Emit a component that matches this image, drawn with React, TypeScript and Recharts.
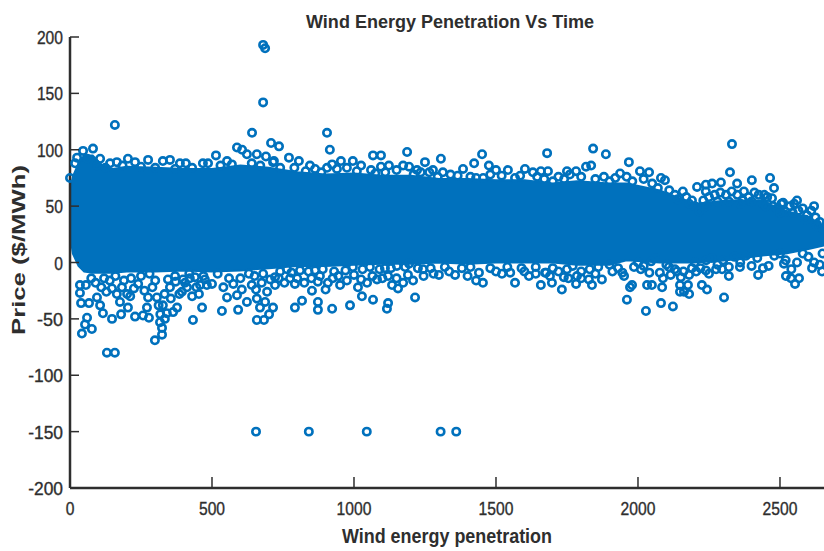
import React from "react";
import {
  ComposedChart,
  Area,
  Scatter,
  XAxis,
  YAxis,
} from "recharts";

const INK = "#2e2e2e";
const BLUE = "#0071BD";
const FONT = "'Liberation Sans', Arial, sans-serif";

const xTicks = [0, 500, 1000, 1500, 2000, 2500];
const yTicks = [-200, -150, -100, -50, 0, 50, 100, 150, 200];

// solid core of the cloud: [x, low, high]
const coreBand = [
  [0, 25, 62], [10, 8, 76], [30, -3, 88], [50, -8, 95], [80, -9, 95], [110, -9, 87],
  [150, -9, 83], [200, -8, 85], [300, -8, 84], [400, -7, 83], [500, -8, 83],
  [600, -7, 86], [700, -5, 84], [800, -3, 80], [900, -3, 78], [1000, -2, 79],
  [1100, -1, 77], [1200, -1, 77], [1300, 0, 74], [1400, -1, 74], [1500, 0, 73],
  [1600, 0, 73], [1700, 0, 70], [1785, -2, 72], [1900, -2, 70], [1960, 2, 70],
  [2077, 0, 64], [2197, 0, 52], [2313, 2, 55], [2430, 6, 55], [2520, 8, 46],
  [2600, 12, 40], [2655, 15, 32],
];

const topRim = [
  [0, 75], [18, 88], [25, 93], [46, 99], [81, 101], [106, 92], [141, 88], [165, 89],
  [204, 92], [229, 89], [275, 91], [327, 90], [352, 91], [387, 88], [408, 88], [468, 88],
  [486, 88], [514, 95], [553, 90], [588, 102], [606, 100], [623, 96], [658, 96], [690, 94],
  [715, 89], [718, 90], [771, 93], [806, 90], [845, 86], [863, 83], [905, 84], [923, 87],
  [954, 90], [996, 90], [1025, 86], [1060, 82], [1095, 85], [1123, 86], [1173, 86], [1194, 85],
  [1222, 82], [1250, 89], [1278, 82], [1313, 80], [1384, 83], [1430, 75], [1500, 82], [1542, 82],
  [1567, 75], [1602, 83], [1630, 80], [1658, 81], [1683, 81], [1700, 72], [1720, 76], [1740, 74],
  [1750, 81], [1760, 78], [1782, 81], [1800, 76], [1817, 85], [1835, 86], [1850, 74], [1880, 76],
  [1900, 72], [1920, 75], [1937, 79], [1960, 76], [1980, 72], [2007, 81], [2020, 74], [2039, 80],
  [2050, 70], [2070, 66], [2081, 75], [2095, 73], [2110, 64], [2130, 60], [2158, 63], [2170, 58],
  [2190, 55], [2200, 50], [2215, 45], [2230, 55], [2250, 58], [2270, 60], [2290, 62], [2310, 60],
  [2330, 63], [2350, 60], [2370, 55], [2390, 58], [2410, 62], [2425, 60], [2440, 52], [2455, 58],
  [2475, 50], [2490, 48], [2505, 52], [2520, 45], [2535, 50], [2550, 52], [2565, 46], [2580, 48],
  [2595, 42], [2610, 46], [2625, 40], [2640, 36], [2650, 30],
];

// second row just under the rim, closes the gaps between the outer rings
const innerRim = [
  [60, 92], [95, 86], [125, 84], [185, 86], [250, 85], [300, 84], [370, 83], [430, 84],
  [530, 86], [570, 87], [640, 88], [670, 86], [740, 84], [790, 84], [830, 81], [885, 80],
  [940, 83], [975, 84], [1010, 81], [1075, 79], [1110, 80], [1150, 82], [1210, 78], [1235, 80],
  [1265, 80], [1295, 76], [1340, 78], [1365, 77], [1410, 76], [1455, 75], [1480, 78], [1520, 77],
  [1585, 77], [1645, 76], [1670, 74], [2140, 56], [2180, 52], [2240, 50], [2280, 54], [2320, 54],
  [2360, 52], [2400, 54], [2450, 50], [2500, 44], [2545, 44], [2590, 38], [2630, 34],
];

const bottomRim = [
  [35, -20], [56, -20], [35, -27], [39, -36], [67, -36], [148, -23], [95, -31], [106, -38],
  [176, -35], [204, -40], [201, -28], [183, -22], [225, -23], [271, -40], [275, -31], [306, -31],
  [327, -38], [352, -22], [345, -15], [377, -40], [341, -45], [363, -44], [398, -15], [394, -26],
  [412, -22], [430, -30], [454, -28], [458, -20], [482, -20], [553, -31], [588, -29], [623, -35],
  [658, -32], [669, -40], [687, -35], [694, -26], [722, -20], [764, -6], [722, -13], [792, -19],
  [852, -25], [873, -17], [908, -18], [951, -20], [1014, -22], [1046, -18], [1081, -15], [1134, -20],
  [1173, -18], [1208, -16], [1243, -6], [1299, -11], [1356, -11], [1430, -16], [1454, -18], [1521, -10],
  [1567, -18], [1616, -12], [1658, -20], [1673, -9], [1109, -5], [863, -7], [810, -7], [996, -4],
  [1056, -4], [1151, -3], [1194, -1], [1700, -5], [1720, -8], [1750, -6], [1770, -3], [1800, -8],
  [1830, -6], [1860, -4], [1900, -2], [1930, -5], [2000, 0], [2020, -3], [2060, 4], [2100, -2],
  [2130, -6], [2160, -8], [2190, -5], [2200, 0], [2220, -5], [2240, 2], [2260, 4], [2280, -2],
  [2300, 2], [2320, -4], [2340, 5], [2360, 0], [2380, 6], [2400, -3], [2420, 4], [2440, -5],
  [2460, -3], [2480, 6], [2500, 8], [2520, 2], [2540, -6], [2560, 0], [2580, 8], [2600, 5],
  [2620, 0], [2640, -2], [2650, 8], [120, -14], [250, -12], [300, -16], [440, -13], [520, -10],
  [600, -14], [650, -12], [75, -14], [160, -12], [215, -14], [280, -10], [370, -12], [420, -10],
  [470, -12], [560, -14], [630, -10], [680, -10], [740, -8], [780, -9], [840, -8], [890, -6],
  [930, -8], [970, -7], [1030, -6], [1090, -6], [1130, -5], [1180, -4], [1225, -5], [1270, -5],
  [1320, -4], [1380, -5], [1410, -4], [1480, -5], [1540, -4], [1590, -5], [1640, -4],
];

// the busy strip of overlapping rings under the core
const lowerStrip = [
  [90, -18], [110, -22], [128, -26], [140, -16], [165, -28], [190, -16], [212, -30], [240, -19],
  [262, -25], [290, -22], [312, -38], [318, -46], [333, -28], [334, -50], [355, -32], [372, -17],
  [385, -28], [405, -18], [422, -14], [445, -22], [475, -15], [500, -19], [540, -22], [575, -19],
  [605, -24], [640, -20], [655, -24], [675, -18], [705, -15], [735, -14], [755, -18], [775, -14],
  [800, -14], [825, -18], [850, -14], [880, -12], [900, -24], [925, -14], [945, -12], [975, -16],
  [1000, -11], [1025, -15], [1065, -12], [1100, -14], [1120, -12], [1150, -14], [1190, -11], [1245, -12],
  [1280, -10], [1335, -8], [1400, -12], [1440, -9], [1500, -8], [1550, -9], [1600, -8], [1640, -10],
  [1690, -12], [1755, -14], [1800, -14], [1850, -10], [1910, -8], [1945, -9], [2010, -6], [2040, -9],
  [2115, -11], [2205, -8], [2250, -10], [2275, -6],
];

const highOutliers = [
  [680, 193], [687, 190], [680, 142], [158, 122], [641, 115], [708, 106], [736, 103], [905, 115],
  [915, 100], [1067, 95], [1095, 95], [1187, 98], [1306, 92], [1451, 96], [1423, 88], [1475, 86],
  [1680, 97], [1842, 101], [1887, 96], [1968, 89], [2331, 105], [2324, 80], [2401, 73], [2465, 75],
  [2479, 66], [2349, 70], [2373, 63], [2292, 71], [2261, 70], [2239, 69], [2208, 67], [2239, 63],
  [2620, 50], [2560, 55], [2511, 53], [2630, 32], [2444, 60], [2472, 57],
];

const lowOutliers = [
  [42, -63], [77, -59], [53, -55], [60, -49], [130, -80], [158, -80], [299, -69], [324, -64],
  [148, -50], [116, -45], [180, -46], [229, -48], [257, -47], [278, -49], [433, -51], [535, -43],
  [465, -40], [592, -42], [658, -51], [683, -51], [701, -46], [715, -40], [317, -53], [324, -58],
  [792, -40], [817, -34], [873, -42], [873, -35], [923, -41], [986, -38], [1028, -30], [1067, -33],
  [1116, -41], [1120, -36], [1155, -23], [1215, -31], [2028, -43], [2081, -36], [2123, -39], [1961, -33],
  [2303, -31], [2032, -20], [2049, -20], [2085, -22], [2225, -20], [2243, -24], [2148, -26], [2180, -28],
  [2162, -26], [2148, -20], [2176, -20], [2180, -11], [2137, -8], [2151, -13], [1979, -20], [1972, -22],
  [1951, -12], [1986, -4], [2088, -14], [2077, -9], [1732, -24], [1697, -18], [1782, -19], [1838, -20],
  [1873, -15], [1827, -15], [1785, -12], [1739, -13], [1676, -9], [2320, -12], [2296, -6], [2423, -11],
  [2359, -4], [2553, -19], [2567, -14], [2521, -12], [2539, -14], [2648, -8], [2613, -5], [2514, -1],
  [2239, -7], [2046, 1], [2109, -4],
];

const floorPrices = [
  [655, -150], [841, -150], [1045, -150], [1305, -150], [1360, -150],
];

const toPoints = (rows: number[][]) => rows.map(([x, y]) => ({ x, y }));
const bandRows = coreBand.map(([x, low, high]) => ({ x, range: [low, high] }));
const allPoints = toPoints([
  ...topRim,
  ...innerRim,
  ...bottomRim,
  ...lowerStrip,
  ...highOutliers,
  ...lowOutliers,
  ...floorPrices,
]);

const Ring = (props: any) => (
  <circle cx={props.cx} cy={props.cy} r={3.7} fill="none" stroke={BLUE} strokeWidth={2.6} />
);

const XTick = ({ x, y, payload }: any) => (
  <g>
    <line x1={x} x2={x} y1={y} y2={y - 11} stroke={INK} strokeWidth={1.5} />
    <text
      x={x}
      y={y + 27}
      textAnchor="middle"
      fontSize={18}
      fontFamily={FONT}
      fill={INK}
      stroke={INK}
      strokeWidth={0.35}
      textLength={String(payload.value).length * 8.7}
      lengthAdjust="spacingAndGlyphs"
    >
      {payload.value}
    </text>
  </g>
);

const YTick = ({ x, y, payload }: any) => (
  <g>
    <line x1={x} x2={x + 9} y1={y} y2={y} stroke={INK} strokeWidth={1.5} />
    <text
      x={x - 7}
      y={y + 7}
      textAnchor="end"
      fontSize={18}
      fontFamily={FONT}
      fill={INK}
      stroke={INK}
      strokeWidth={0.35}
      textLength={String(payload.value).length * 8.7}
      lengthAdjust="spacingAndGlyphs"
    >
      {payload.value}
    </text>
  </g>
);

export default function App() {
  return (
    <div style={{ position: "absolute", left: 0, top: 0, width: 824, height: 551, background: "#fff" }}>
      <ComposedChart
        width={824}
        height={551}
        margin={{ top: 37, right: 0, bottom: 0, left: 0 }}
      >
        <XAxis
          dataKey="x"
          type="number"
          domain={[0, 2655]}
          ticks={xTicks}
          axisLine={{ stroke: INK, strokeWidth: 2.5 }}
          tickLine={false}
          tickSize={0}
          tickMargin={0}
          height={63}
          tick={<XTick />}
          interval={0}
        />
        <YAxis
          dataKey="y"
          type="number"
          domain={[-200, 200]}
          ticks={yTicks}
          axisLine={{ stroke: INK, strokeWidth: 2.5 }}
          tickLine={false}
          tickSize={0}
          tickMargin={0}
          width={70}
          tick={<YTick />}
          interval={0}
        />
        <Area
          data={bandRows}
          dataKey="range"
          type="linear"
          stroke={BLUE}
          strokeWidth={2}
          fill={BLUE}
          fillOpacity={1}
          dot={false}
          activeDot={false}
          isAnimationActive={false}
        />
        <Scatter data={allPoints} shape={<Ring />} isAnimationActive={false} />
        <text x={450} y={28} textAnchor="middle" fontSize={19} fontWeight="bold" fontFamily={FONT} fill={INK} textLength={288} lengthAdjust="spacingAndGlyphs">
          Wind Energy Penetration Vs Time
        </text>
        <text x={447} y={543} textAnchor="middle" fontSize={20} fontWeight="bold" fontFamily={FONT} fill={INK} textLength={210} lengthAdjust="spacingAndGlyphs">
          Wind energy penetration
        </text>
        <text x={25} y={250} transform="rotate(-90 25 250)" textAnchor="middle" fontSize={18} fontWeight="bold" fontFamily={FONT} fill={INK} textLength={170} lengthAdjust="spacingAndGlyphs">
          Price ($/MWh)
        </text>
      </ComposedChart>
    </div>
  );
}
